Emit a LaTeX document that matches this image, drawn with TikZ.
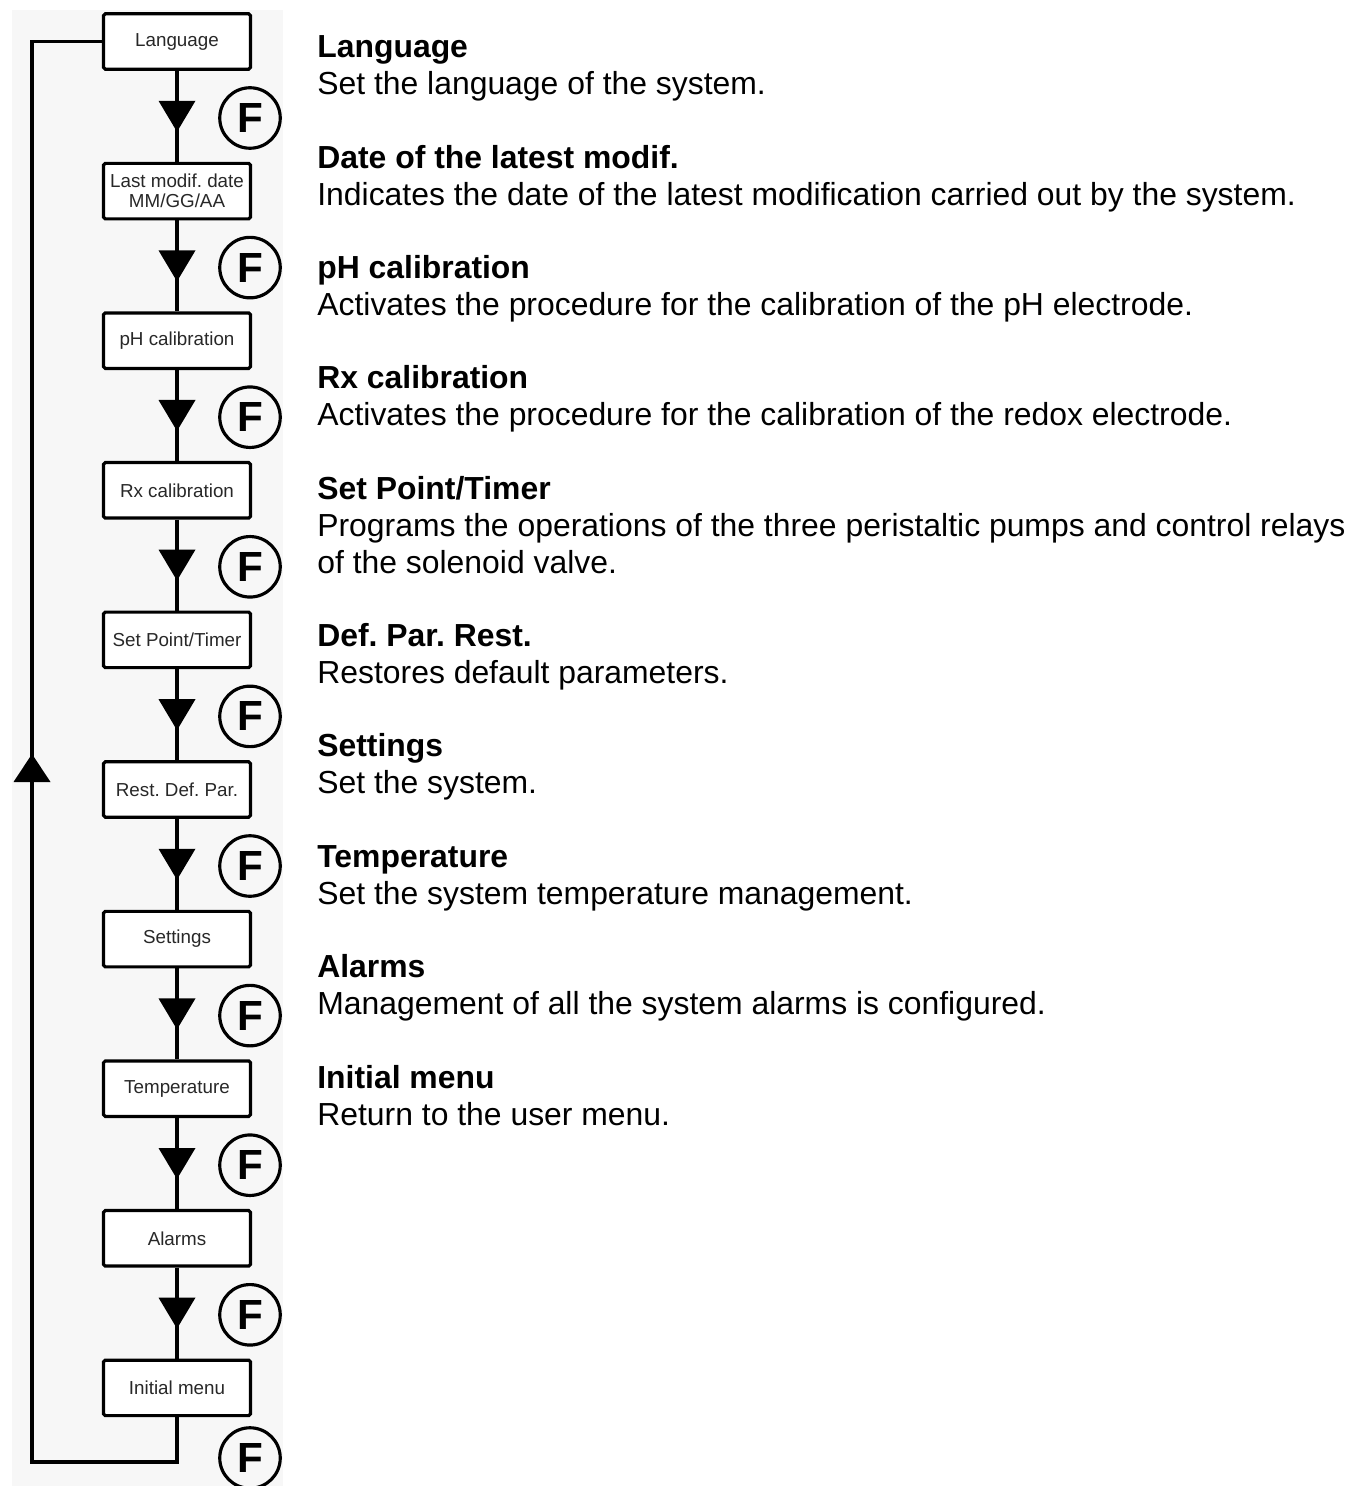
\documentclass[tikz,border=0pt]{standalone}
\usepackage{fontspec}
\setmainfont{Liberation Sans}
\usetikzlibrary{calc}

\definecolor{panelgray}{RGB}{247,247,247}
\definecolor{boxtext}{RGB}{40,40,40}

\begin{document}
\frenchspacing
\begin{tikzpicture}[x=0.02cm, y=-0.02cm,
  menubox/.style={draw, line width=1.8pt, rounded corners=1pt, fill=white,
    minimum width=2.94cm, minimum height=1.11cm, inner sep=0pt, align=center,
    text=boxtext, font=\fontsize{10.7}{11.2}\selectfont},
  fkey/.style={draw, circle, line width=1.8pt, minimum size=1.21cm, inner sep=0pt,
    font=\fontsize{24}{24}\selectfont\bfseries},
  flow/.style={line width=1.8pt},
  info/.style={anchor=base west, align=left, inner sep=0pt,
    font=\fontsize{18.15}{20.8}\selectfont}]

\useasboundingbox (0,0) rectangle (1351,1486);

\fill[panelgray] (12,10) rectangle (283,1486);

% menu boxes
\node[menubox] (b1) at (177,41.5) {Language};

\node[menubox] (b2) at (177,191.1) {Last modif. date\\MM/GG/AA};

\node[menubox] (b3) at (177,340.7) {pH calibration};

\node[menubox] (b4) at (177,490.3) {Rx calibration};

\node[menubox] (b5) at (177,639.9) {Set Point/Timer};

\node[menubox] (b6) at (177,789.5) {Rest. Def. Par.};

\node[menubox] (b7) at (177,939.1) {Settings};

\node[menubox] (b8) at (177,1088.7) {Temperature};

\node[menubox] (b9) at (177,1238.3) {Alarms};

\node[menubox] (b10) at (177,1387.9) {Initial menu};

% links between boxes
\draw[flow] (b1) -- (b2);
\draw[flow] (b2) -- (b3);
\draw[flow] (b3) -- (b4);
\draw[flow] (b4) -- (b5);
\draw[flow] (b5) -- (b6);
\draw[flow] (b6) -- (b7);
\draw[flow] (b7) -- (b8);
\draw[flow] (b8) -- (b9);
\draw[flow] (b9) -- (b10);

% down triangles
\fill ($(b1.south)!.5!(b2.north)$) ++(-18.5,-15.5) -- ++(37,0) -- ++(-18.5,31) -- cycle;
\fill ($(b2.south)!.5!(b3.north)$) ++(-18.5,-15.5) -- ++(37,0) -- ++(-18.5,31) -- cycle;
\fill ($(b3.south)!.5!(b4.north)$) ++(-18.5,-15.5) -- ++(37,0) -- ++(-18.5,31) -- cycle;
\fill ($(b4.south)!.5!(b5.north)$) ++(-18.5,-15.5) -- ++(37,0) -- ++(-18.5,31) -- cycle;
\fill ($(b5.south)!.5!(b6.north)$) ++(-18.5,-15.5) -- ++(37,0) -- ++(-18.5,31) -- cycle;
\fill ($(b6.south)!.5!(b7.north)$) ++(-18.5,-15.5) -- ++(37,0) -- ++(-18.5,31) -- cycle;
\fill ($(b7.south)!.5!(b8.north)$) ++(-18.5,-15.5) -- ++(37,0) -- ++(-18.5,31) -- cycle;
\fill ($(b8.south)!.5!(b9.north)$) ++(-18.5,-15.5) -- ++(37,0) -- ++(-18.5,31) -- cycle;
\fill ($(b9.south)!.5!(b10.north)$) ++(-18.5,-15.5) -- ++(37,0) -- ++(-18.5,31) -- cycle;

% return loop
\coordinate (loopbl) at (32,1462);
\coordinate (uptip) at (32,768);

\draw[flow] (b10.south) |- (loopbl) |- (b1.west);

\fill (uptip) ++(-18.5,14) -- ++(37,0) -- ++(-18.5,-28) -- cycle;

% F keys
\node[fkey] (f1) at (250,118) {F};

\node[fkey] (f2) at (250,267.6) {F};

\node[fkey] (f3) at (250,417.2) {F};

\node[fkey] (f4) at (250,566.8) {F};

\node[fkey] (f5) at (250,716.4) {F};

\node[fkey] (f6) at (250,866) {F};

\node[fkey] (f7) at (250,1015.6) {F};

\node[fkey] (f8) at (250,1165.2) {F};

\node[fkey] (f9) at (250,1314.8) {F};

\node[fkey] (f10) at (250,1458) {F};

% descriptions (base = baseline of the last line)
\node[info] (i1) at (317,94.5) {\textbf{Language}\\Set the language of the system.};

\node[info] (i2) at (317,205.5) {\textbf{Date of the latest modif.}\\Indicates the date of the latest modification carried out by the system.};

\node[info] (i3) at (317,315.5) {\textbf{pH calibration}\\Activates the procedure for the calibration of the pH electrode.};

\node[info] (i4) at (317,425.5) {\textbf{Rx calibration}\\Activates the procedure for the calibration of the redox electrode.};

\node[info] (i5) at (317,573) {\textbf{Set Point/Timer}\\Programs the operations of the three peristaltic pumps and control relays\\of the solenoid valve.};

\node[info] (i6) at (317,683.5) {\textbf{Def. Par. Rest.}\\Restores default parameters.};

\node[info] (i7) at (317,793.5) {\textbf{Settings}\\Set the system.};

\node[info] (i8) at (317,904.5) {\textbf{Temperature}\\Set the system temperature management.};

\node[info] (i9) at (317,1014.5) {\textbf{Alarms}\\Management of all the system alarms is configured.};

\node[info] (i10) at (317,1125.5) {\textbf{Initial menu}\\Return to the user menu.};

\end{tikzpicture}
\end{document}
